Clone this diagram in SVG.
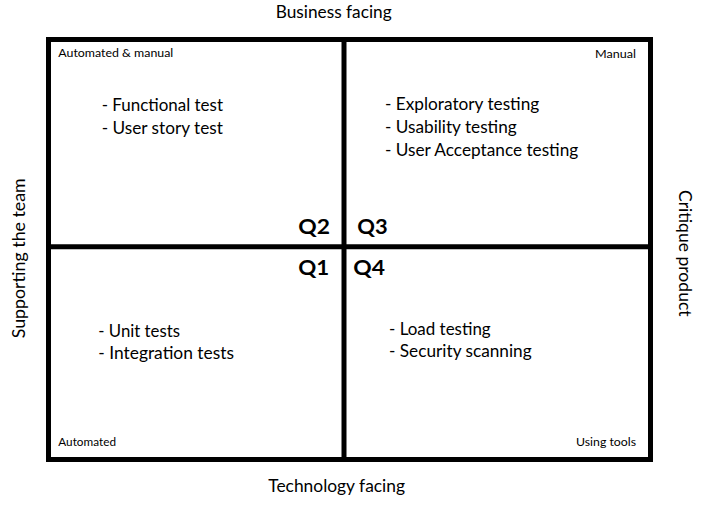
<svg xmlns="http://www.w3.org/2000/svg" width="702" height="505" viewBox="0 0 702 505">
  <style>
    .grid { fill: none; stroke: #000; stroke-width: 5; }
    text { font-family: Lato, "Open Sans", "Liberation Sans", sans-serif; fill: #000; }
    .axis { font-size: 16.8px; }
    .item { font-size: 16.8px; }
    .note { font-size: 11.6px; }
    .q { font-size: 20.5px; font-weight: bold; }
  </style>

  <!-- Axis captions -->
  <g id="axis-labels">
    <text class="axis" x="275.7" y="18.3" textLength="116" lengthAdjust="spacingAndGlyphs">Business facing</text>
    <text class="axis" x="268.3" y="491.7" textLength="136.7" lengthAdjust="spacingAndGlyphs">Technology facing</text>
    <text class="axis" transform="translate(25 258.3) rotate(-90)" text-anchor="middle" textLength="160" lengthAdjust="spacingAndGlyphs">Supporting the team</text>
    <text class="axis" transform="translate(679 253.3) rotate(90)" text-anchor="middle" textLength="126.7" lengthAdjust="spacingAndGlyphs">Critique product</text>
  </g>

  <!-- Quadrant frame -->
  <g id="grid">
    <rect class="grid" x="48.5" y="39.5" width="602" height="420"/>
    <line class="grid" x1="344" y1="39.5" x2="344" y2="459.5"/>
    <line class="grid" x1="48.5" y1="246.8" x2="650.5" y2="246.8"/>
  </g>

  <!-- Q2: top left -->
  <g id="q2">
    <text class="note" x="58.3" y="56.5" textLength="115" lengthAdjust="spacingAndGlyphs">Automated &amp; manual</text>
    <text class="item" x="101.7" y="111.3" textLength="121.3" lengthAdjust="spacingAndGlyphs">- Functional test</text>
    <text class="item" x="101.7" y="134" textLength="121.3" lengthAdjust="spacingAndGlyphs">- User story test</text>
    <text class="q" x="298.3" y="234.3" textLength="31.7" lengthAdjust="spacingAndGlyphs">Q2</text>
  </g>

  <!-- Q3: top right -->
  <g id="q3">
    <text class="note" x="595" y="57.7" textLength="41" lengthAdjust="spacingAndGlyphs">Manual</text>
    <text class="item" x="385" y="110" textLength="154.3" lengthAdjust="spacingAndGlyphs">- Exploratory testing</text>
    <text class="item" x="385" y="132.7" textLength="131.7" lengthAdjust="spacingAndGlyphs">- Usability testing</text>
    <text class="item" x="385" y="155.7" textLength="193.3" lengthAdjust="spacingAndGlyphs">- User Acceptance testing</text>
    <text class="q" x="357.3" y="234.3" textLength="30.4" lengthAdjust="spacingAndGlyphs">Q3</text>
  </g>

  <!-- Q1: bottom left -->
  <g id="q1">
    <text class="q" x="298.3" y="275" textLength="31" lengthAdjust="spacingAndGlyphs">Q1</text>
    <text class="item" x="98.3" y="336.7" textLength="81.7" lengthAdjust="spacingAndGlyphs">- Unit tests</text>
    <text class="item" x="98.3" y="359.3" textLength="135.7" lengthAdjust="spacingAndGlyphs">- Integration tests</text>
    <text class="note" x="58.3" y="445.7" textLength="57.7" lengthAdjust="spacingAndGlyphs">Automated</text>
  </g>

  <!-- Q4: bottom right -->
  <g id="q4">
    <text class="q" x="353.3" y="275" textLength="31.7" lengthAdjust="spacingAndGlyphs">Q4</text>
    <text class="item" x="389" y="335" textLength="101.7" lengthAdjust="spacingAndGlyphs">- Load testing</text>
    <text class="item" x="389" y="357.3" textLength="142.7" lengthAdjust="spacingAndGlyphs">- Security scanning</text>
    <text class="note" x="576" y="445.7" textLength="60" lengthAdjust="spacingAndGlyphs">Using tools</text>
  </g>
</svg>
